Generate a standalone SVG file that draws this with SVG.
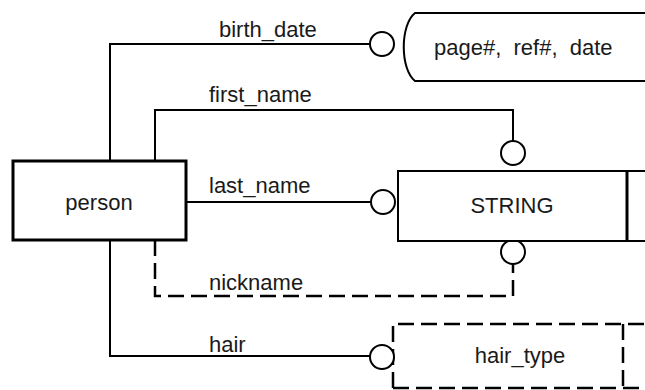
<svg xmlns="http://www.w3.org/2000/svg" width="645" height="390" viewBox="0 0 645 390">
<style>
text { font-family: "Liberation Sans", Arial, sans-serif; font-size: 22px; fill: #1a1a1a; }
.c { text-anchor: middle; }
.ln { fill: none; stroke: #000; stroke-width: 2; }
.dash { fill: none; stroke: #000; stroke-width: 2.5; stroke-dasharray: 16 7; }
.box { fill: #fff; stroke: #000; stroke-width: 2; }
.ring { fill: #fff; stroke: #000; stroke-width: 2; }
</style>
<rect width="645" height="390" fill="#fff"/>
<g id="connectors">
  <path class="ln" d="M110 161 V44 H370"/>
  <circle class="ring" cx="382" cy="44" r="12"/>
  <text x="219" y="37">birth_date</text>
  <path class="ln" d="M155 161 V110 H513 V141"/>
  <circle class="ring" cx="513" cy="153" r="12"/>
  <text x="209" y="102">first_name</text>
  <path class="ln" d="M186 202 H371"/>
  <circle class="ring" cx="383" cy="202" r="12"/>
  <text x="209" y="193">last_name</text>
  <path class="dash" d="M155 240 V296 H513 V264"/>
  <circle class="ring" cx="513" cy="252" r="12"/>
  <text x="209" y="290">nickname</text>
  <path class="ln" d="M110 240 V356 H370"/>
  <text x="209" y="352">hair</text>
</g>
<g id="person">
  <rect x="13" y="161" width="173" height="79" fill="#fff" stroke="#000" stroke-width="3"/>
  <text class="c" x="99" y="210">person</text>
</g>
<g id="page-ref-date">
  <path class="box" d="M650 13 H415 C400 25 400 69 415 81 H650"/>
  <text x="434" y="55" xml:space="preserve">page#,  ref#,  date</text>
</g>
<g id="string">
  <rect class="box" x="398" y="171" width="260" height="70"/>
  <line x1="627" y1="171" x2="627" y2="241" stroke="#000" stroke-width="3"/>
  <text class="c" x="512" y="213">STRING</text>
</g>
<g id="hair_type">
  <path class="dash" d="M393 388 V324 H650"/>
  <line class="dash" x1="393" y1="388" x2="650" y2="388"/>
  <line class="dash" x1="623" y1="324" x2="623" y2="390"/>
  <text class="c" x="520" y="363">hair_type</text>
</g>
<circle class="ring" cx="382" cy="357" r="12"/>
</svg>
